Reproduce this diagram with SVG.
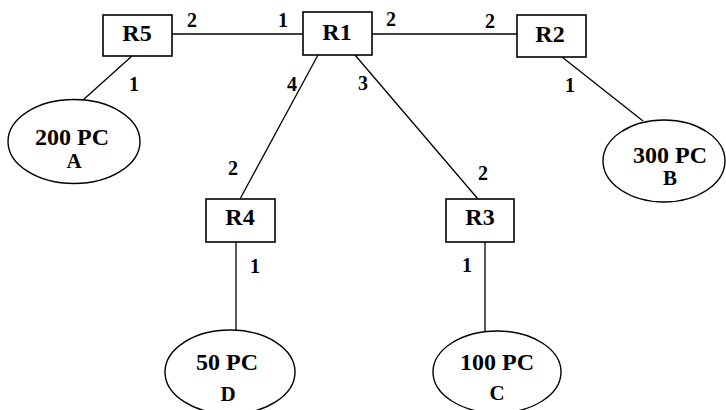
<svg xmlns="http://www.w3.org/2000/svg" width="726" height="410" viewBox="0 0 726 410">
<style>
.box{fill:#fff;stroke:#000;stroke-width:1.6}
.pc{fill:#fff;stroke:#000;stroke-width:1.4}
.ln{stroke:#000;stroke-width:1.3;fill:none}
text{font-family:'Liberation Serif','Times New Roman','DejaVu Serif',serif;font-weight:bold;text-anchor:middle;fill:#000}
.rt{font-size:24px}
.t1{font-size:24px}
.t2{font-size:21px}
.pt{font-size:20px}
</style>
<rect width="726" height="410" fill="#fff"/>
<g id="connectors">
<line class="ln" x1="172" y1="34" x2="303" y2="34"/>
<line class="ln" x1="372" y1="34" x2="517" y2="34"/>
<line class="ln" x1="132" y1="56" x2="83" y2="100"/>
<line class="ln" x1="318" y1="55" x2="240" y2="199"/>
<line class="ln" x1="355" y1="55" x2="478" y2="199"/>
<line class="ln" x1="562" y1="57" x2="643" y2="121"/>
<line class="ln" x1="236" y1="242" x2="236" y2="331"/>
<line class="ln" x1="485" y1="242" x2="485" y2="332"/>
<text class="pt" x="192" y="27">2</text>
<text class="pt" x="283" y="27">1</text>
<text class="pt" x="391" y="26">2</text>
<text class="pt" x="490" y="28">2</text>
<text class="pt" x="134" y="91">1</text>
<text class="pt" x="292" y="91">4</text>
<text class="pt" x="363" y="90">3</text>
<text class="pt" x="570" y="92">1</text>
<text class="pt" x="233" y="175">2</text>
<text class="pt" x="483" y="180">2</text>
<text class="pt" x="255" y="273">1</text>
<text class="pt" x="467" y="272">1</text>
</g>
<g id="R5"><rect class="box" x="103" y="15" width="69" height="41"/><text class="rt" x="137" y="41">R5</text></g>
<g id="R1"><rect class="box" x="303" y="12" width="69" height="43"/><text class="rt" x="337" y="40">R1</text></g>
<g id="R2"><rect class="box" x="517" y="15" width="69" height="42"/><text class="rt" x="550" y="42">R2</text></g>
<g id="R4"><rect class="box" x="206" y="199" width="69" height="43"/><text class="rt" x="240" y="225">R4</text></g>
<g id="R3"><rect class="box" x="446" y="199" width="68" height="43"/><text class="rt" x="480" y="225">R3</text></g>
<g id="A"><ellipse class="pc" cx="74" cy="141.5" rx="66" ry="42"/><text class="t1" x="72" y="145">200 PC</text><text class="t2" x="74" y="168">A</text></g>
<g id="B"><ellipse class="pc" cx="664" cy="161" rx="61" ry="41"/><text class="t1" x="670" y="163">300 PC</text><text class="t2" x="670" y="185">B</text></g>
<g id="D"><ellipse class="pc" cx="230" cy="372" rx="65" ry="42"/><text class="t1" x="227" y="370">50 PC</text><text class="t2" x="228" y="401">D</text></g>
<g id="C"><ellipse class="pc" cx="497" cy="372" rx="64" ry="41"/><text class="t1" x="497" y="370">100 PC</text><text class="t2" x="497" y="400">C</text></g>
</svg>
